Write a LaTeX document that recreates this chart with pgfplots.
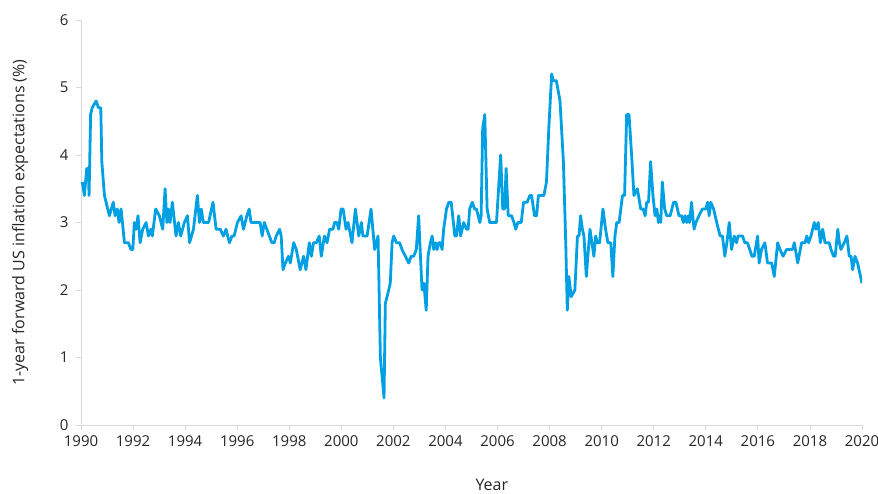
\documentclass[border=0pt]{standalone}
\usepackage{fontspec}
\setmainfont{Open Sans}
\usepackage{pgfplots}
\pgfplotsset{compat=1.18}
\definecolor{serieblue}{HTML}{00A0E3}
\definecolor{axgray}{HTML}{D9D9D9}
\definecolor{txt}{HTML}{262626}
\begin{document}
\begin{tikzpicture}
\begin{axis}[
  at={(0,0)}, anchor=south west,
  scale only axis, width=781pt, height=405pt,
  xmin=1990, xmax=2020, ymin=0, ymax=6,
  axis x line*=bottom, axis y line*=left,
  axis line style={draw=axgray, line width=0.8pt, -},
  xtick={1990,1992,...,2020},
  ytick={0,1,...,6},
  tick align=outside, major tick length=5pt,
  tick style={draw=axgray, line width=0.8pt},
  /pgf/number format/assume math mode=true,
  x tick label style={/pgf/number format/1000 sep={}, yshift=-2pt},
  tick label style={font=\fontsize{15}{18}\selectfont, text=txt},
  yticklabel style={xshift=-4pt},
  label style={font=\fontsize{16}{19}\selectfont, text=txt},
  xlabel={Year},
  ylabel={1-year forward US inflation expectations (\%)},
  xlabel style={at={(axis description cs:0.526,0)}, anchor=base, yshift=-66pt},
  ylabel style={at={(axis description cs:-0.078,0.5)}, anchor=center},
]
\addplot[serieblue, line width=2.8pt, line join=round, mark=none] coordinates {
(1990.05,3.6) (1990.13,3.4) (1990.22,3.8) (1990.28,3.8) (1990.31,3.4) (1990.37,4.6)
(1990.43,4.7) (1990.58,4.8) (1990.67,4.7) (1990.76,4.7) (1990.80,3.9) (1990.90,3.4)
(1991.09,3.1) (1991.24,3.3) (1991.31,3.1) (1991.40,3.2) (1991.46,3.0) (1991.54,3.2)
(1991.67,2.7) (1991.82,2.7) (1991.92,2.6) (1991.99,2.6) (1992.05,3.0) (1992.12,2.9)
(1992.19,3.1) (1992.27,2.7) (1992.37,2.9) (1992.50,3.0) (1992.59,2.8) (1992.68,2.9)
(1992.74,2.8) (1992.87,3.2) (1993.01,3.1) (1993.14,2.9) (1993.23,3.5) (1993.30,3.0)
(1993.36,3.2) (1993.42,3.0) (1993.51,3.3) (1993.65,2.8) (1993.74,3.0) (1993.83,2.8)
(1993.97,3.0) (1994.09,3.1) (1994.17,2.7) (1994.32,2.9) (1994.47,3.4) (1994.55,3.0)
(1994.62,3.2) (1994.70,3.0) (1994.90,3.0) (1995.07,3.3) (1995.19,2.9) (1995.35,2.9)
(1995.47,2.8) (1995.57,2.9) (1995.70,2.7) (1995.80,2.8) (1995.88,2.8) (1996.01,3.0)
(1996.15,3.1) (1996.24,2.9) (1996.37,3.1) (1996.46,3.2) (1996.53,3.0) (1996.88,3.0)
(1996.96,2.8) (1997.04,3.0) (1997.14,2.9) (1997.33,2.7) (1997.42,2.7) (1997.50,2.8)
(1997.63,2.9) (1997.69,2.8) (1997.76,2.3) (1997.85,2.4) (1997.97,2.5) (1998.04,2.4)
(1998.17,2.7) (1998.27,2.6) (1998.42,2.3) (1998.55,2.5) (1998.64,2.3) (1998.77,2.7)
(1998.85,2.5) (1998.93,2.7) (1999.04,2.7) (1999.15,2.8) (1999.23,2.5) (1999.35,2.8)
(1999.45,2.7) (1999.55,2.9) (1999.68,2.9) (1999.74,3.0) (1999.83,3.0) (1999.90,2.9)
(1999.99,3.2) (2000.07,3.2) (2000.18,2.9) (2000.26,3.0) (2000.41,2.7) (2000.54,3.2)
(2000.67,2.8) (2000.77,3.0) (2000.83,2.8) (2000.99,2.8) (2001.14,3.2) (2001.28,2.6)
(2001.41,2.8) (2001.50,1.0) (2001.64,0.4) (2001.69,1.8) (2001.82,2.0) (2001.88,2.1)
(2001.95,2.7) (2002.01,2.8) (2002.12,2.7) (2002.24,2.7) (2002.33,2.6) (2002.46,2.5)
(2002.59,2.4) (2002.68,2.5) (2002.78,2.5) (2002.88,2.6) (2002.97,3.1) (2003.04,2.5)
(2003.10,2.0) (2003.17,2.1) (2003.26,1.7) (2003.33,2.5) (2003.42,2.7) (2003.49,2.8)
(2003.55,2.6) (2003.62,2.7) (2003.68,2.6) (2003.74,2.7) (2003.81,2.7) (2003.87,2.6)
(2003.93,2.9) (2004.04,3.2) (2004.13,3.3) (2004.22,3.3) (2004.36,2.8) (2004.42,2.8)
(2004.51,3.1) (2004.58,2.8) (2004.70,3.0) (2004.81,2.9) (2004.87,2.9) (2004.93,3.2)
(2005.03,3.3) (2005.12,3.2) (2005.19,3.2) (2005.32,3.0) (2005.37,3.1) (2005.43,4.4)
(2005.51,4.6) (2005.60,3.2) (2005.70,3.0) (2005.80,3.0) (2005.96,3.0) (2006.12,4.0)
(2006.20,3.2) (2006.27,3.2) (2006.33,3.8) (2006.41,3.1) (2006.54,3.1) (2006.63,3.0)
(2006.70,2.9) (2006.78,3.0) (2006.91,3.0) (2007.00,3.3) (2007.14,3.3) (2007.24,3.4)
(2007.31,3.4) (2007.42,3.1) (2007.50,3.1) (2007.57,3.4) (2007.78,3.4) (2007.88,3.6)
(2007.97,4.4) (2008.08,5.2) (2008.14,5.1) (2008.26,5.1) (2008.40,4.8) (2008.53,3.9)
(2008.62,2.7) (2008.68,1.7) (2008.74,2.2) (2008.83,1.9) (2008.97,2.0) (2009.07,2.8)
(2009.13,2.8) (2009.19,3.1) (2009.26,2.9) (2009.32,2.8) (2009.41,2.2) (2009.55,2.9)
(2009.70,2.5) (2009.77,2.8) (2009.83,2.7) (2009.92,2.7) (2010.05,3.2) (2010.15,2.9)
(2010.24,2.7) (2010.35,2.7) (2010.43,2.2) (2010.51,2.8) (2010.58,3.0) (2010.67,3.0)
(2010.80,3.4) (2010.88,3.4) (2010.96,4.6) (2011.05,4.6) (2011.15,4.0) (2011.24,3.4)
(2011.37,3.5) (2011.50,3.2) (2011.59,3.2) (2011.67,3.1) (2011.73,3.3) (2011.80,3.3)
(2011.88,3.9) (2011.97,3.4) (2012.05,3.1) (2012.12,3.2) (2012.18,3.0) (2012.24,3.1)
(2012.27,3.0) (2012.33,3.6) (2012.42,3.2) (2012.50,3.1) (2012.63,3.1) (2012.76,3.3)
(2012.85,3.3) (2012.97,3.1) (2013.07,3.1) (2013.14,3.0) (2013.20,3.1) (2013.27,3.0)
(2013.33,3.1) (2013.38,3.0) (2013.45,3.3) (2013.55,2.9) (2013.62,3.0) (2013.74,3.1)
(2013.87,3.2) (2014.00,3.2) (2014.07,3.3) (2014.13,3.1) (2014.19,3.3) (2014.30,3.2)
(2014.42,3.0) (2014.55,2.8) (2014.64,2.8) (2014.73,2.5) (2014.81,2.7) (2014.90,3.0)
(2014.99,2.6) (2015.09,2.8) (2015.18,2.7) (2015.24,2.8) (2015.41,2.8) (2015.50,2.7)
(2015.60,2.7) (2015.69,2.6) (2015.77,2.5) (2015.86,2.5) (2015.99,2.8) (2016.05,2.4)
(2016.14,2.6) (2016.27,2.7) (2016.37,2.4) (2016.53,2.4) (2016.63,2.2) (2016.76,2.7)
(2016.85,2.6) (2016.97,2.5) (2017.10,2.6) (2017.33,2.6) (2017.40,2.7) (2017.53,2.4)
(2017.68,2.7) (2017.81,2.7) (2017.88,2.8) (2017.95,2.7) (2018.04,2.8) (2018.17,3.0)
(2018.23,2.9) (2018.32,3.0) (2018.40,2.7) (2018.49,2.9) (2018.58,2.7) (2018.74,2.7)
(2018.81,2.6) (2018.91,2.5) (2018.97,2.5) (2019.07,2.9) (2019.13,2.7) (2019.19,2.6)
(2019.32,2.7) (2019.42,2.8) (2019.51,2.5) (2019.58,2.5) (2019.64,2.3) (2019.73,2.5)
(2019.83,2.4) (2020.00,2.1)
};
\end{axis}
\pgfresetboundingbox
\useasboundingbox (-81pt,-69pt) rectangle (797pt,425pt);
\end{tikzpicture}
\end{document}
